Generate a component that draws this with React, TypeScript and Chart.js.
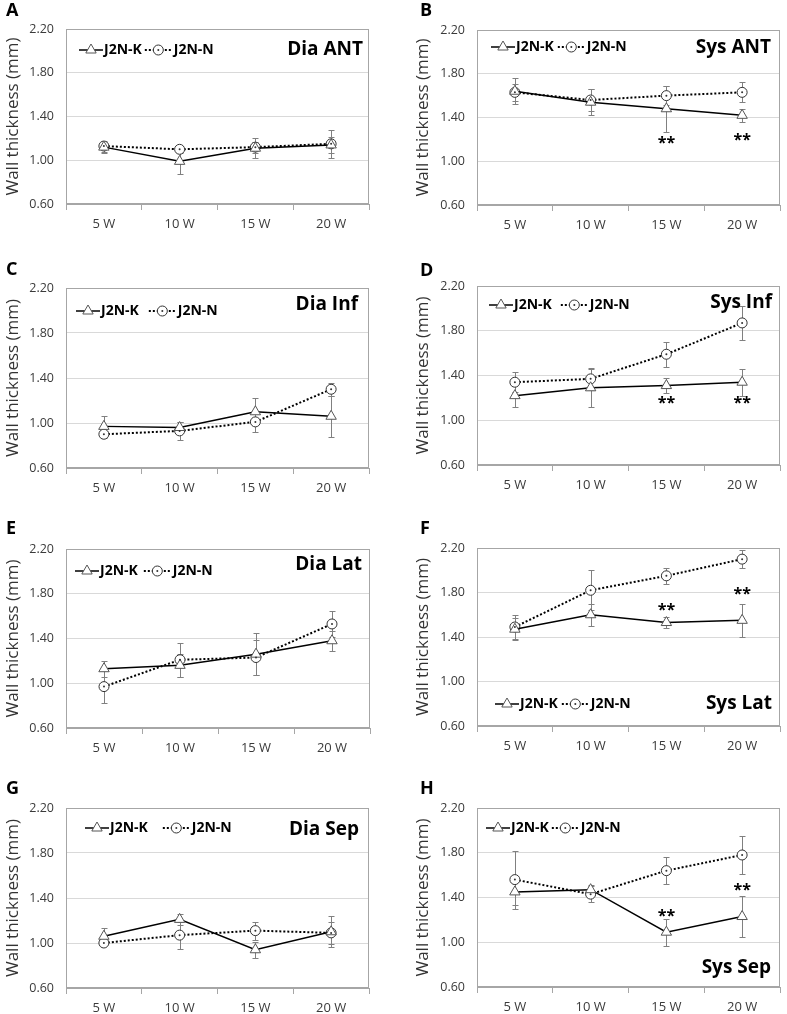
import React, { useEffect, useRef } from 'react';
import { Chart, registerables } from 'chart.js';

Chart.register(...registerables);

// ---------- data ----------
const categories = ['5 W', '10 W', '15 W', '20 W'];
const seriesNames = ['J2N-K', 'J2N-N'];
const yAxisTitle = 'Wall thickness (mm)';
const yMin = 0.6;
const yMax = 2.2;
const yStep = 0.4;

// A: Dia ANT
const diaAntK = [1.12, 0.99, 1.11, 1.14];
const diaAntKErr = [0.05, 0.12, 0.09, 0.07];
const diaAntN = [1.13, 1.10, 1.12, 1.15];
const diaAntNErr = [0.05, 0.03, 0.05, 0.13];

// B: Sys ANT
const sysAntK = [1.64, 1.54, 1.48, 1.42];
const sysAntKErr = [0.12, 0.12, 0.21, 0.06];
const sysAntN = [1.63, 1.56, 1.60, 1.63];
const sysAntNErr = [0.08, 0.10, 0.09, 0.09];
const sysAntStars = [null, null, 1.20, 1.23];

// C: Dia Inf
const diaInfK = [0.97, 0.96, 1.10, 1.06];
const diaInfKErr = [0.09, 0.05, 0.12, 0.18];
const diaInfN = [0.90, 0.93, 1.01, 1.30];
const diaInfNErr = [0.03, 0.08, 0.09, 0.06];

// D: Sys Inf
const sysInfK = [1.22, 1.29, 1.31, 1.34];
const sysInfKErr = [0.10, 0.17, 0.07, 0.12];
const sysInfN = [1.34, 1.37, 1.59, 1.87];
const sysInfNErr = [0.09, 0.10, 0.11, 0.15];
const sysInfStars = [null, null, 1.19, 1.19];

// E: Dia Lat
const diaLatK = [1.13, 1.16, 1.26, 1.38];
const diaLatKErr = [0.07, 0.10, 0.19, 0.09];
const diaLatN = [0.97, 1.21, 1.23, 1.53];
const diaLatNErr = [0.15, 0.15, 0.16, 0.12];

// F: Sys Lat
const sysLatK = [1.47, 1.60, 1.53, 1.55];
const sysLatKErr = [0.10, 0.10, 0.05, 0.15];
const sysLatN = [1.49, 1.82, 1.95, 2.10];
const sysLatNErr = [0.11, 0.18, 0.07, 0.08];
const sysLatStars = [null, null, 1.68, 1.82];

// G: Dia Sep
const diaSepK = [1.06, 1.21, 0.94, 1.10];
const diaSepKErr = [0.07, 0.05, 0.07, 0.14];
const diaSepN = [1.00, 1.07, 1.11, 1.09];
const diaSepNErr = [0.02, 0.12, 0.08, 0.10];

// H: Sys Sep
const sysSepK = [1.45, 1.47, 1.09, 1.23];
const sysSepKErr = [0.12, 0.04, 0.12, 0.18];
const sysSepN = [1.56, 1.43, 1.64, 1.78];
const sysSepNErr = [0.26, 0.07, 0.12, 0.17];
const sysSepStars = [null, null, 1.27, 1.50];

// ---------- layout / style ----------
const FONT = "'Open Sans', sans-serif";
const FRAME = '#a6a6a6';
const GRID = '#d9d9d9';
const TICK_COLOR = '#3a3a3a';

type PanelCfg = {
  letter: string; title: string;
  k: number[]; kErr: number[]; n: number[]; nErr: number[]; stars?: (number | null)[];
  col: number; top: number; plotL: number; plotR: number; plotT: number; plotB: number;
  legendPos: 'top' | 'bottom'; legendDx: number; legendDy: number; legendGap: number;
  titlePos: 'top' | 'bottom'; titleDx: number; titleDy: number;
  letterY: number;
};

const panels: PanelCfg[] = [
  { letter: 'A', title: 'Dia ANT', k: diaAntK, kErr: diaAntKErr, n: diaAntN, nErr: diaAntNErr,
    col: 0, top: 0, plotL: 66, plotR: 369, plotT: 29, plotB: 204,
    legendPos: 'top', legendDx: 13, legendDy: 21, legendGap: 3, titlePos: 'top', titleDx: -6, titleDy: 21, letterY: 11 },
  { letter: 'B', title: 'Sys ANT', k: sysAntK, kErr: sysAntKErr, n: sysAntN, nErr: sysAntNErr, stars: sysAntStars,
    col: 1, top: 0, plotL: 84, plotR: 389, plotT: 30, plotB: 205,
    legendPos: 'top', legendDx: 14, legendDy: 17, legendGap: 4, titlePos: 'top', titleDx: -9, titleDy: 18, letterY: 11 },
  { letter: 'C', title: 'Dia Inf', k: diaInfK, kErr: diaInfKErr, n: diaInfN, nErr: diaInfNErr,
    col: 0, top: 250, plotL: 66, plotR: 369, plotT: 38, plotB: 218,
    legendPos: 'top', legendDx: 10, legendDy: 23, legendGap: 10, titlePos: 'top', titleDx: -11, titleDy: 17, letterY: 20 },
  { letter: 'D', title: 'Sys Inf', k: sysInfK, kErr: sysInfKErr, n: sysInfN, nErr: sysInfNErr, stars: sysInfStars,
    col: 1, top: 250, plotL: 84, plotR: 390, plotT: 36, plotB: 215,
    legendPos: 'top', legendDx: 12, legendDy: 19, legendGap: 9, titlePos: 'top', titleDx: -8, titleDy: 17, letterY: 21 },
  { letter: 'E', title: 'Dia Lat', k: diaLatK, kErr: diaLatKErr, n: diaLatN, nErr: diaLatNErr,
    col: 0, top: 500, plotL: 66, plotR: 370, plotT: 49, plotB: 228,
    legendPos: 'top', legendDx: 9, legendDy: 22, legendGap: 6, titlePos: 'top', titleDx: -8, titleDy: 16, letterY: 29 },
  { letter: 'F', title: 'Sys Lat', k: sysLatK, kErr: sysLatKErr, n: sysLatN, nErr: sysLatNErr, stars: sysLatStars,
    col: 1, top: 500, plotL: 84, plotR: 390, plotT: 48, plotB: 226,
    legendPos: 'bottom', legendDx: 18, legendDy: -22, legendGap: 4, titlePos: 'bottom', titleDx: -8, titleDy: -22, letterY: 29 },
  { letter: 'G', title: 'Dia Sep', k: diaSepK, kErr: diaSepKErr, n: diaSepN, nErr: diaSepNErr,
    col: 0, top: 750, plotL: 66, plotR: 369, plotT: 58, plotB: 238,
    legendPos: 'top', legendDx: 19, legendDy: 20, legendGap: 15, titlePos: 'top', titleDx: -10, titleDy: 22, letterY: 39 },
  { letter: 'H', title: 'Sys Sep', k: sysSepK, kErr: sysSepKErr, n: sysSepN, nErr: sysSepNErr, stars: sysSepStars,
    col: 1, top: 750, plotL: 84, plotR: 389, plotT: 58, plotB: 237,
    legendPos: 'top', legendDx: 9, legendDy: 20, legendGap: 3, titlePos: 'bottom', titleDx: -9, titleDy: -19, letterY: 39 },
];

const COL_X = [0, 393];
const COL_W = [393, 394];
const LETTER_X = [6, 27];
const LEFT_PAD = [0, 17];
const X_AXIS_H = 26;
const BOTTOM_PAD = 4;

function triPath(ctx: CanvasRenderingContext2D, x: number, y: number, r: number) {
  let rad = 0;
  ctx.beginPath();
  ctx.moveTo(x + Math.sin(rad) * r, y - Math.cos(rad) * r);
  rad += (2 * Math.PI) / 3;
  ctx.lineTo(x + Math.sin(rad) * r, y - Math.cos(rad) * r);
  rad += (2 * Math.PI) / 3;
  ctx.lineTo(x + Math.sin(rad) * r, y - Math.cos(rad) * r);
  ctx.closePath();
}

function makeDecor(p: PanelCfg) {
  return {
    id: 'decor' + p.letter,
    beforeDatasetsDraw(chart: any) {
      const { ctx, chartArea: a, scales } = chart;
      const xs = scales.x, ys = scales.y;
      ctx.save();
      ctx.strokeStyle = FRAME;
      ctx.lineWidth = 1;
      const l = Math.round(a.left) + 0.5, t = Math.round(a.top) + 0.5;
      const r = Math.round(a.right) - 0.5, b = Math.round(a.bottom) - 0.5;
      ctx.strokeRect(l, t, r - l, b - t);
      ctx.strokeStyle = '#808080';
      const sets: [number[], number[]][] = [[p.k, p.kErr], [p.n, p.nErr]];
      for (const [vals, errs] of sets) {
        vals.forEach((v, i) => {
          const px = Math.round(xs.getPixelForValue(i)) + 0.5;
          const hi = Math.round(ys.getPixelForValue(v + errs[i])) + 0.5;
          const lo = Math.round(ys.getPixelForValue(v - errs[i])) + 0.5;
          ctx.beginPath();
          ctx.moveTo(px, hi); ctx.lineTo(px, lo);
          ctx.moveTo(px - 3, hi); ctx.lineTo(px + 3, hi);
          ctx.moveTo(px - 3, lo); ctx.lineTo(px + 3, lo);
          ctx.stroke();
        });
      }
      ctx.restore();
    },
    afterDatasetsDraw(chart: any) {
      const { ctx, scales } = chart;
      ctx.save();
      const meta = chart.getDatasetMeta(1);
      ctx.fillStyle = '#333';
      meta.data.forEach((pt: any) => {
        ctx.beginPath();
        ctx.arc(pt.x, pt.y, 1, 0, Math.PI * 2);
        ctx.fill();
      });
      if (p.stars) {
        ctx.font = `bold 16px ${FONT}`;
        ctx.textAlign = 'center';
        ctx.textBaseline = 'alphabetic';
        ctx.fillStyle = '#000';
        p.stars.forEach((s, i) => {
          if (s == null) return;
          const px = scales.x.getPixelForValue(i);
          const py = scales.y.getPixelForValue(s);
          ctx.fillText('**', px, py + 9);
        });
      }
      ctx.restore();
    },
    afterDraw(chart: any) {
      const { ctx, chartArea: a } = chart;
      ctx.save();
      // legend
      const ly = (p.legendPos === 'top' ? a.top : a.bottom) + p.legendDy;
      let x = a.left + p.legendDx;
      ctx.strokeStyle = '#000';
      ctx.lineWidth = 1.5;
      ctx.setLineDash([]);
      ctx.beginPath();
      ctx.moveTo(x, ly); ctx.lineTo(x + 24, ly);
      ctx.stroke();
      triPath(ctx, x + 12, ly, 6);
      ctx.fillStyle = '#fff';
      ctx.fill();
      ctx.strokeStyle = '#555';
      ctx.lineWidth = 1;
      ctx.stroke();
      ctx.font = `bold 14px ${FONT}`;
      ctx.textAlign = 'left';
      ctx.textBaseline = 'middle';
      ctx.fillStyle = '#000';
      ctx.fillText(seriesNames[0], x + 25, ly);
      x = x + 25 + ctx.measureText(seriesNames[0]).width + p.legendGap;
      ctx.strokeStyle = '#000';
      ctx.lineWidth = 2;
      ctx.setLineDash([2, 2]);
      ctx.beginPath();
      ctx.moveTo(x, ly); ctx.lineTo(x + 27, ly);
      ctx.stroke();
      ctx.setLineDash([]);
      ctx.beginPath();
      ctx.arc(x + 13.5, ly, 5, 0, Math.PI * 2);
      ctx.fillStyle = '#fff';
      ctx.fill();
      ctx.strokeStyle = '#333';
      ctx.lineWidth = 1;
      ctx.stroke();
      ctx.fillStyle = '#333';
      ctx.beginPath();
      ctx.arc(x + 13.5, ly, 1, 0, Math.PI * 2);
      ctx.fill();
      ctx.fillStyle = '#000';
      ctx.fillText(seriesNames[1], x + 29, ly);
      // title
      ctx.font = `bold 19px ${FONT}`;
      ctx.textAlign = 'right';
      ctx.fillText(p.title, a.right + p.titleDx, (p.titlePos === 'top' ? a.top : a.bottom) + p.titleDy);
      // panel letter
      ctx.font = `bold 18px ${FONT}`;
      ctx.textAlign = 'left';
      ctx.fillText(p.letter, LETTER_X[p.col], p.letterY);
      ctx.restore();
    },
  };
}

function Panel({ p }: { p: PanelCfg }) {
  const ref = useRef<HTMLCanvasElement>(null);
  const W = COL_W[p.col];
  const H = p.plotB + X_AXIS_H + BOTTOM_PAD;
  const padL = LEFT_PAD[p.col];
  useEffect(() => {
    if (!ref.current) return;
    const chart = new Chart(ref.current, {
      type: 'line',
      data: {
        labels: categories,
        datasets: [
          {
            label: seriesNames[0], data: p.k, borderColor: '#000', borderWidth: 1.5,
            pointStyle: 'triangle', pointRadius: 6, pointBackgroundColor: '#fff',
            pointBorderColor: '#555', pointBorderWidth: 1, tension: 0,
          },
          {
            label: seriesNames[1], data: p.n, borderColor: '#000', borderWidth: 2, borderDash: [2, 2],
            pointStyle: 'circle', pointRadius: 5, pointBackgroundColor: '#fff',
            pointBorderColor: '#333', pointBorderWidth: 1, tension: 0,
          },
        ],
      },
      options: {
        responsive: false,
        animation: false,
        devicePixelRatio: 1,
        layout: { padding: { left: padL, right: W - p.plotR, top: p.plotT, bottom: BOTTOM_PAD } },
        plugins: { legend: { display: false }, tooltip: { enabled: false } },
        scales: {
          x: {
            type: 'category',
            offset: true,
            grid: { display: true, drawOnChartArea: false, drawTicks: true, tickLength: 6, color: FRAME, offset: true },
            border: { display: true, color: FRAME },
            ticks: { font: { family: FONT, size: 13 }, color: TICK_COLOR, padding: 6, maxRotation: 0, autoSkip: false },
            afterFit: (s: any) => { s.height = X_AXIS_H; },
          },
          y: {
            min: yMin,
            max: yMax,
            ticks: {
              stepSize: yStep,
              font: { family: FONT, size: 12.5 },
              color: TICK_COLOR,
              padding: 12,
              callback: (v: any) => Number(v).toFixed(2),
            },
            grid: { color: GRID, drawTicks: false },
            border: { display: false },
            title: {
              display: true, text: yAxisTitle, color: '#333',
              font: { family: FONT, size: 17 }, padding: { top: 3, bottom: 0 },
            },
            afterFit: (s: any) => { s.width = p.plotL - padL; },
          },
        },
      } as any,
      plugins: [makeDecor(p)],
    });
    return () => chart.destroy();
  }, [p]);
  return (
    <canvas
      ref={ref}
      width={W}
      height={H}
      style={{ position: 'absolute', left: COL_X[p.col], top: p.top, width: W, height: H }}
    />
  );
}

export default function App() {
  return (
    <div style={{ position: 'fixed', left: 0, top: 0, width: 787, height: 1014, overflow: 'hidden', background: '#fff' }}>
      {panels.map((p) => <Panel key={p.letter} p={p} />)}
    </div>
  );
}
